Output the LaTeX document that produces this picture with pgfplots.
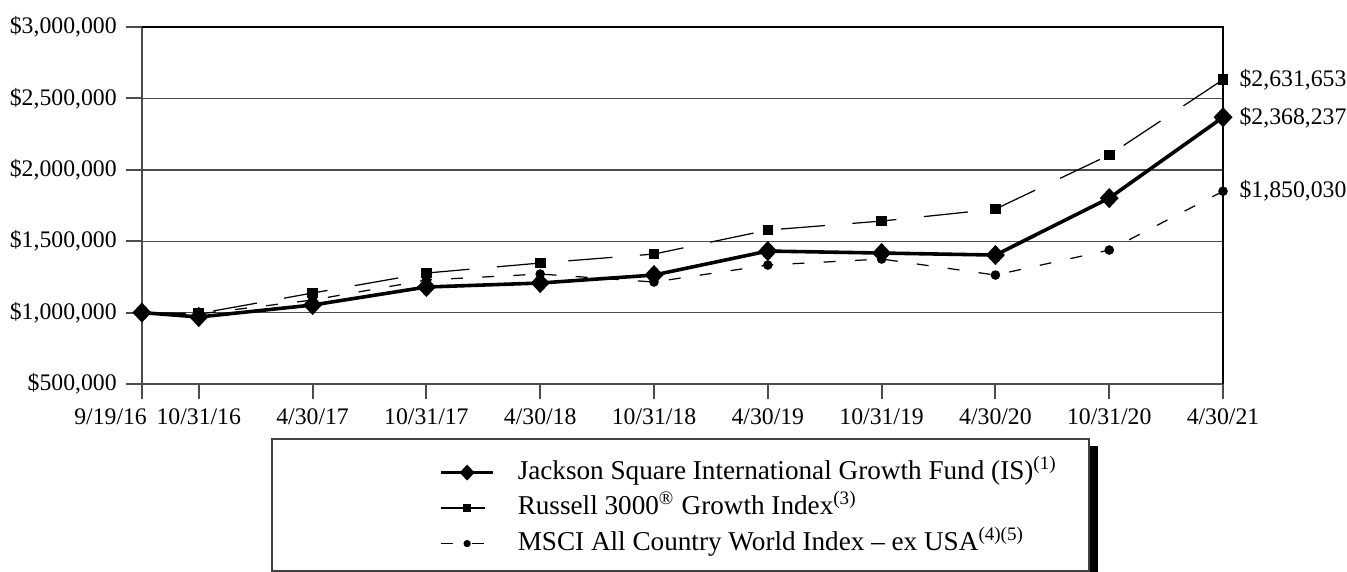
\documentclass[border=0pt]{standalone}
\usepackage{fontspec}
\setmainfont{Liberation Serif}
\usepackage{pgfplots}
\pgfplotsset{compat=1.18}

\begin{document}
\begin{tikzpicture}
\begin{axis}[
  scale only axis, width=391.7pt, height=129.3pt,
  xmin=0, xmax=9.5, ymin=500000, ymax=3000000,
  xtick={0,0.5,1.5,2.5,3.5,4.5,5.5,6.5,7.5,8.5,9.5},
  xticklabels={{\makebox[3.6pt][r]{9/19/16}},10/31/16,4/30/17,10/31/17,4/30/18,10/31/18,4/30/19,10/31/19,4/30/20,10/31/20,4/30/21},
  ytick={500000,1000000,1500000,2000000,2500000,3000000},
  yticklabels={{\$500,000},{\$1,000,000},{\$1,500,000},{\$2,000,000},{\$2,500,000},{\$3,000,000}},
  scaled y ticks=false,
  tick align=outside, major tick length=5.6pt,
  tick style={black!70, line width=0.7pt},
  xtick pos=bottom, ytick pos=left,
  ymajorgrids, grid style={black!70, line width=0.5pt},
  axis line style={black!70, line width=0.8pt},
  tick label style={font=\fontsize{8.6}{10}\selectfont},
  clip=false,
  legend cell align=left,
  legend style={at={(0.2747,-0.212)}, anchor=north west, draw=none, fill=none,
    inner sep=0pt, row sep=3.86pt, column sep=8.3pt,
    nodes={inner sep=0pt, text height=7pt, text depth=2pt},
    font=\fontsize{9.85}{12}\selectfont},
  legend image code/.code={\draw[mark repeat=2,mark phase=2,#1,every mark/.append style={scale=0.72}] plot coordinates {(0cm,0cm) (0.33cm,0cm) (0.66cm,0cm)};},
]
\addplot[black, line width=1.3pt, mark=diamond*, mark size=2.7pt, mark options={solid, xscale=1.25}]
  coordinates {(0,1000000) (0.5,969000) (1.5,1053000) (2.5,1179000) (3.5,1207000) (4.5,1263000) (5.5,1431000) (6.5,1417000) (7.5,1403000) (8.5,1802000) (9.5,2368237)};
\addlegendentry{Jackson Square International Growth Fund (IS)\textsuperscript{(1)}}
\addplot[black, line width=0.45pt, dash pattern=on 16pt off 10pt, mark=square*, mark size=1.7pt, mark options={solid}]
  coordinates {(0,1000000) (0.5,993000) (1.5,1137000) (2.5,1277000) (3.5,1347000) (4.5,1410000) (5.5,1578000) (6.5,1641000) (7.5,1725000) (8.5,2104000) (9.5,2631653)};
\addlegendentry{Russell 3000\textsuperscript{\textregistered} Growth Index\textsuperscript{(3)}}
\addplot[black, line width=0.45pt, dash pattern=on 4.3pt off 7pt, mark=*, mark size=1.5pt, mark options={solid}]
  coordinates {(0,1000000) (0.5,990000) (1.5,1088000) (2.5,1228000) (3.5,1270000) (4.5,1214000) (5.5,1333000) (6.5,1375000) (7.5,1263000) (8.5,1438000) (9.5,1850030)};
\addlegendentry{MSCI All Country World Index – ex USA\textsuperscript{(4)(5)}}
\draw[black, line width=0.9pt] (rel axis cs:0,1) -- (rel axis cs:1,1) -- (rel axis cs:1,0);
\node[anchor=west, inner sep=0pt, xshift=5.8pt, font=\fontsize{8.6}{10}\selectfont] at (axis cs:9.5,2631653) {\$2,631,653};
\node[anchor=west, inner sep=0pt, xshift=5.8pt, font=\fontsize{8.6}{10}\selectfont] at (axis cs:9.5,2368237) {\$2,368,237};
\node[anchor=west, inner sep=0pt, xshift=5.8pt, font=\fontsize{8.6}{10}\selectfont] at (axis cs:9.5,1850030) {\$1,850,030};
\end{axis}
\draw[black!75, line width=0.6pt] (47.1pt,-19.9pt) rectangle (343.1pt,-67.75pt);
\fill[black] (343.4pt,-22.5pt) rectangle (346.3pt,-68.5pt);
\pgfresetboundingbox
\path[use as bounding box] (-51.4pt,-68.1pt) rectangle (436.6pt,139.1pt);
\end{tikzpicture}
\end{document}
